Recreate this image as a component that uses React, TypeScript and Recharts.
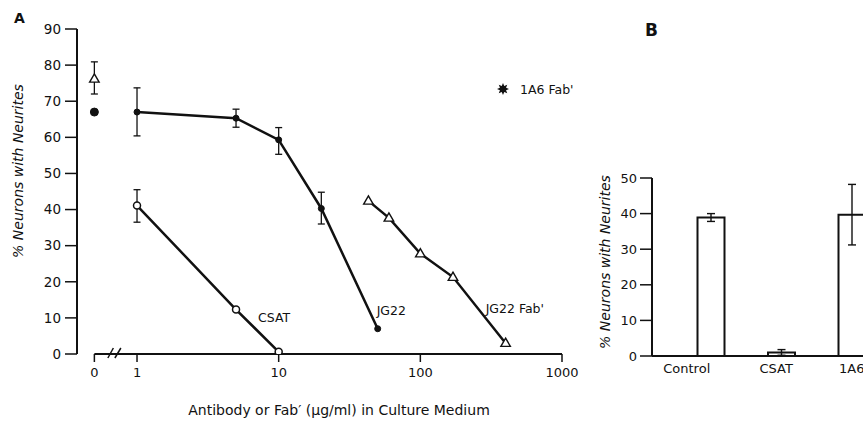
import React from 'react';
import {
  ComposedChart,
  Line,
  XAxis,
  YAxis,
  ErrorBar,
  ReferenceLine,
  LabelList,
  BarChart,
  Bar,
} from 'recharts';

const FONT = '"DejaVu Sans", "Liberation Sans", sans-serif';
const INK = '#111';

// ---------------- Panel A data ----------------
const ZERO_POS = 0.5; // where the "0" (no antibody) column sits on the broken log axis
const xTickValuesA = [0, 1, 10, 100, 1000];
const yTicksA = [0, 10, 20, 30, 40, 50, 60, 70, 80, 90];

const jg22Conc = [1, 5, 10, 20, 50];
const jg22Pct = [67, 65.3, 59.3, 40.3, 7.0];
const jg22ErrLow = [6.6, 2.5, 4.0, 4.3, 0];
const jg22ErrHigh = [6.7, 2.5, 3.4, 4.5, 0];

const csatConc = [1, 5, 10];
const csatPct = [41.1, 12.3, 0.6];
const csatErrLow = [4.6, 0, 0];
const csatErrHigh = [4.4, 0, 0];

const fabConc = [43, 60, 100, 170, 400];
const fabPct = [42.4, 37.7, 27.8, 21.3, 3.0];

const controlConc = [0];
const controlFabPct = [76.2];
const controlFabErrLow = [4.2];
const controlFabErrHigh = [4.7];
const controlIgGPct = [67];

const seriesLabels = { csat: 'CSAT', jg22: 'JG22', fab: "JG22 Fab'" };
const labelAt = { csat: 1, jg22: 4, fab: 4 };
const legendLabel = "1A6 Fab'";

// ---------------- Panel B data ----------------
const barCats = ['Control', 'CSAT', '1A6'];
const barPct = [38.9, 1.0, 39.7];
const barErr = [1.1, 0.8, 8.5];
const yTicksB = [0, 10, 20, 30, 40, 50];
const barLabelShift = [-24, -5, 0];

// ---------------- built tables ----------------
const pos = (c: number) => (c === 0 ? ZERO_POS : c);
const err = (lo: number, hi: number) => (lo || hi ? [lo, hi] : undefined);

const jg22Data = jg22Conc.map((c, i) => ({
  c: pos(c),
  v: jg22Pct[i],
  e: err(jg22ErrLow[i], jg22ErrHigh[i]),
  tag: i === labelAt.jg22 ? seriesLabels.jg22 : undefined,
}));
const csatData = csatConc.map((c, i) => ({
  c: pos(c),
  v: csatPct[i],
  e: err(csatErrLow[i], csatErrHigh[i]),
  tag: i === labelAt.csat ? seriesLabels.csat : undefined,
}));
const fabData = fabConc.map((c, i) => ({
  c: pos(c),
  v: fabPct[i],
  tag: i === labelAt.fab ? seriesLabels.fab : undefined,
}));
const controlFabData = controlConc.map((c, i) => ({
  c: pos(c),
  v: controlFabPct[i],
  e: err(controlFabErrLow[i], controlFabErrHigh[i]),
}));
const controlIgGData = controlConc.map((c, i) => ({ c: pos(c), v: controlIgGPct[i] }));
const xTickPosA = xTickValuesA.map(pos);

const barData = barCats.map((name, i) => ({ name, v: barPct[i], e: barErr[i], shift: barLabelShift[i] }));

// ---------------- shapes ----------------
const triDot = (p: any) => {
  const { cx, cy, index } = p;
  if (cx == null || cy == null) return <g key={`tri-none-${index}`} />;
  const s = 5;
  return (
    <path
      key={`tri-${index}-${cx}`}
      d={`M${cx},${cy - s} L${cx + s * 0.95},${cy + s * 0.65} L${cx - s * 0.95},${cy + s * 0.65} Z`}
      fill="#fff"
      stroke={INK}
      strokeWidth={1.4}
    />
  );
};

const makeTag = (dx: number, dy: number) => (p: any) => {
  if (!p.value) return null;
  return (
    <text
      x={Number(p.x) + dx}
      y={Number(p.y) + dy}
      fontSize={12.5}
      fontFamily={FONT}
      fill={INK}
      dominantBaseline="central"
    >
      {p.value}
    </text>
  );
};

const X_TICK_SIZE = 8;
const X_TICK_MARGIN = 6;

const XTickA = (props: any) => {
  const { x, y, payload, index } = props;
  const v = payload.value;
  const axisY = y - X_TICK_SIZE - X_TICK_MARGIN;
  return (
    <g>
      <text x={x} y={y} dy="0.71em" textAnchor="middle" fontSize={13} fontFamily={FONT} fill={INK}>
        {v === ZERO_POS ? '0' : String(v)}
      </text>
      {index === 0 && (
        <g stroke={INK} strokeWidth={1.5}>
          <line x1={x + 13.5} y1={axisY + 4} x2={x + 19} y2={axisY - 6} />
          <line x1={x + 20.5} y1={axisY + 4} x2={x + 26.5} y2={axisY - 6} />
        </g>
      )}
    </g>
  );
};

const XTickB = (props: any) => {
  const { x, y, payload, index } = props;
  const shift = barData[index] ? barData[index].shift : 0;
  return (
    <text x={x + shift} y={y} dy="0.71em" textAnchor="middle" fontSize={13} fontFamily={FONT} fill={INK}>
      {payload.value}
    </text>
  );
};

const starPoints = (cx: number, cy: number, ro: number, ri: number, n: number) => {
  const pts: string[] = [];
  for (let k = 0; k < n * 2; k++) {
    const r = k % 2 === 0 ? ro : ri;
    const a = (Math.PI * k) / n - Math.PI / 2;
    pts.push(`${(cx + r * Math.cos(a)).toFixed(2)},${(cy + r * Math.sin(a)).toFixed(2)}`);
  }
  return pts.join(' ');
};

export default function App() {
  return (
    <div
      style={{
        position: 'fixed',
        left: 0,
        top: 0,
        width: 863,
        height: 421,
        overflow: 'hidden',
        background: '#fff',
        fontFamily: FONT,
      }}
    >
      <style>{'html,body{margin:0;padding:0;overflow:hidden;background:#fff;}'}</style>
      {/* Panel A */}
      <div style={{ position: 'absolute', left: 0, top: 0 }}>
        <ComposedChart width={600} height={421} margin={{ top: 29, right: 38, bottom: 37, left: 17 }}>
          <XAxis
            type="number"
            dataKey="c"
            scale="log"
            domain={[0.377, 1000]}
            allowDataOverflow
            ticks={xTickPosA}
            interval={0}
            height={30}
            axisLine={false}
            tickSize={X_TICK_SIZE}
            tickMargin={X_TICK_MARGIN}
            tickLine={{ stroke: INK, strokeWidth: 1.5 }}
            tick={<XTickA />}
          />
          <YAxis
            type="number"
            domain={[0, 90]}
            allowDataOverflow
            ticks={yTicksA}
            interval={0}
            width={60}
            tickSize={12}
            tickMargin={4}
            axisLine={{ stroke: INK, strokeWidth: 2 }}
            tickLine={{ stroke: INK, strokeWidth: 1.5 }}
            tick={{ fill: INK, fontSize: 13.5, fontFamily: FONT }}
          />
          <ReferenceLine
            segment={[
              { x: ZERO_POS, y: 0 },
              { x: 1000, y: 0 },
            ]}
            stroke={INK}
            strokeWidth={2}
          />
          <Line
            data={csatData}
            dataKey="v"
            type="linear"
            stroke={INK}
            strokeWidth={2.5}
            dot={{ r: 3.5, fill: '#fff', stroke: INK, strokeWidth: 1.5 }}
            isAnimationActive={false}
          >
            <ErrorBar dataKey="e" direction="y" width={3.5} stroke={INK} strokeWidth={1.3} />
            <LabelList dataKey="tag" content={makeTag(22, 8)} />
          </Line>
          <Line
            data={jg22Data}
            dataKey="v"
            type="linear"
            stroke={INK}
            strokeWidth={2.5}
            dot={{ r: 3, fill: INK, stroke: INK, strokeWidth: 1 }}
            isAnimationActive={false}
          >
            <ErrorBar dataKey="e" direction="y" width={3.5} stroke={INK} strokeWidth={1.3} />
            <LabelList dataKey="tag" content={makeTag(-1, -18)} />
          </Line>
          <Line
            data={fabData}
            dataKey="v"
            type="linear"
            stroke={INK}
            strokeWidth={2.5}
            dot={triDot}
            isAnimationActive={false}
          >
            <LabelList dataKey="tag" content={makeTag(-20, -35)} />
          </Line>
          <Line
            data={controlFabData}
            dataKey="v"
            stroke="none"
            dot={triDot}
            isAnimationActive={false}
          >
            <ErrorBar dataKey="e" direction="y" width={3.5} stroke={INK} strokeWidth={1.3} />
          </Line>
          <Line
            data={controlIgGData}
            dataKey="v"
            stroke="none"
            dot={{ r: 4, fill: INK, stroke: INK, strokeWidth: 1 }}
            isAnimationActive={false}
          />
        </ComposedChart>
      </div>

      {/* Panel B */}
      <div style={{ position: 'absolute', left: 580, top: 0 }}>
        <BarChart width={307} height={421} data={barData} margin={{ top: 178, right: 0, bottom: 35, left: 12 }}>
          <XAxis
            dataKey="name"
            type="category"
            padding={{ left: 23.5, right: 0 }}
            height={30}
            axisLine={{ stroke: INK, strokeWidth: 2 }}
            tickLine={false}
            tickSize={0}
            tickMargin={8}
            interval={0}
            tick={<XTickB />}
          />
          <YAxis
            type="number"
            domain={[0, 50]}
            ticks={yTicksB}
            interval={0}
            width={60}
            tickSize={12}
            tickMargin={3}
            axisLine={{ stroke: INK, strokeWidth: 2 }}
            tickLine={{ stroke: INK, strokeWidth: 1.5 }}
            tick={{ fill: INK, fontSize: 13, fontFamily: FONT }}
          />
          <Bar dataKey="v" barSize={27} fill="#fff" stroke={INK} strokeWidth={2} isAnimationActive={false}>
            <ErrorBar dataKey="e" direction="y" width={4} stroke={INK} strokeWidth={1.4} />
          </Bar>
        </BarChart>
      </div>

      {/* titles, axis labels and legend */}
      <svg
        width={863}
        height={421}
        style={{ position: 'absolute', left: 0, top: 0, pointerEvents: 'none' }}
        fontFamily={FONT}
        fill={INK}
      >
        <text x={14} y={18} fontSize={14} fontWeight="bold" dominantBaseline="central">
          A
        </text>
        <text x={645} y={30} fontSize={17} fontWeight="bold" dominantBaseline="central">
          B
        </text>
        <text
          x={18}
          y={171}
          transform="rotate(-90 18 171)"
          fontSize={14}
          fontStyle="italic"
          textAnchor="middle"
          dominantBaseline="central"
        >
          % Neurons with Neurites
        </text>
        <text
          x={605}
          y={262}
          transform="rotate(-90 605 262)"
          fontSize={14}
          fontStyle="italic"
          textAnchor="middle"
          dominantBaseline="central"
        >
          % Neurons with Neurites
        </text>
        <text x={339} y={410} fontSize={14} textAnchor="middle" dominantBaseline="central">
          Antibody or Fab′ (μg/ml) in Culture Medium
        </text>
        <polygon points={starPoints(503, 89, 6, 3.3, 8)} fill={INK} />
        <text x={520} y={89} fontSize={12.5} dominantBaseline="central">
          {legendLabel}
        </text>
      </svg>
    </div>
  );
}
